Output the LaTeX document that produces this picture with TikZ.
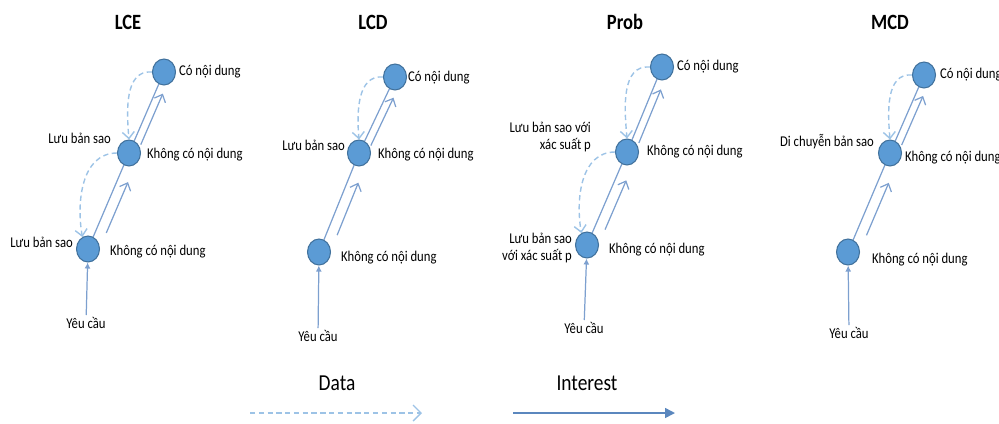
\documentclass[tikz,border=0pt]{standalone}
\usepackage{fontspec}
\setmainfont{Carlito}[FakeStretch=0.85]
\usetikzlibrary{arrows.meta}
\usetikzlibrary{shapes.geometric}
\usetikzlibrary{calc}
\definecolor{dotblue}{RGB}{91,155,213}
\definecolor{dotedge}{RGB}{65,113,156}
\definecolor{linkblue}{RGB}{125,160,207}
\definecolor{datablue}{RGB}{157,195,230}
\definecolor{keyblue}{RGB}{91,135,190}
\tikzset{
    dot/.style={ellipse, fill=dotblue, draw=dotedge, line width=0.6pt,
        minimum width=0.46cm, minimum height=0.52cm, inner sep=0pt},
    lbl/.style={font=\fontsize{8.5}{9.5}\selectfont, inner sep=1pt},
    ttl/.style={font=\fontsize{12.4}{14}\selectfont\bfseries},
    keytext/.style={font=\fontsize{13}{15}\selectfont},
    link/.style={draw=linkblue, line width=0.7pt},
    interest/.style={link, -{Straight Barb[length=1.3mm,width=2.4mm]}},
    data/.style={draw=datablue, line width=0.8pt, dash pattern=on 3pt off 2pt,
        -{Straight Barb[length=1.3mm,width=2.4mm]}},
    request/.style={link, -{Latex[length=1.2mm,width=1.2mm]}},
}
\begin{document}
\begin{tikzpicture}[x=0.02cm, y=0.02cm] % caching strategies
	\useasboundingbox (0,0) rectangle (999,-423);
	% LCE
	\node[ttl] (ta) at (128,-22) {LCE};
	\node[dot] (a1) at (88,-249) {};
	\node[dot] (a2) at (129,-153) {};
	\node[dot] (a3) at (164,-72) {};
	\node[lbl, anchor=north] (a0) at (86,-315) {Yêu cầu};
	\node[lbl, anchor=west] at (177,-72) {Có nội dung};
	\node[lbl, anchor=west] at (145,-155) {Không có nội dung};
	\node[lbl, anchor=west] at (108,-252) {Không có nội dung};
	\node[lbl, anchor=east] at (113,-138) {Lưu bản sao};
	\node[lbl, anchor=east] at (75,-242) {Lưu bản sao};
	\draw[data] (a3.west) to[out=175,in=95] (a2.north);
	\draw[data] (a2.west) to[out=180,in=100] (a1.115);
	% LCD
	\node[ttl] (tb) at (373,-22) {LCD};
	\node[dot] (b1) at (319,-252) {};
	\node[dot] (b2) at (359,-153) {};
	\node[dot] (b3) at (395,-77) {};
	\node[lbl, anchor=north] (b0) at (318,-328) {Yêu cầu};
	\node[lbl, anchor=west] at (406,-78) {Có nội dung};
	\node[lbl, anchor=west] at (376,-155) {Không có nội dung};
	\node[lbl, anchor=west] at (339,-258) {Không có nội dung};
	\node[lbl, anchor=east] at (347,-145) {Lưu bản sao};
	\draw[data] (b3.west) to[out=175,in=95] (b2.north);
	% Prob
	\node[ttl] (tc) at (625,-22) {Prob};
	\node[dot] (c1) at (587,-245) {};
	\node[dot] (c2) at (627,-152) {};
	\node[dot] (c3) at (662,-67) {};
	\node[lbl, anchor=north] (c0) at (584,-320) {Yêu cầu};
	\node[lbl, anchor=west] at (675,-67) {Có nội dung};
	\node[lbl, anchor=west] at (645,-152) {Không có nội dung};
	\node[lbl, anchor=west] at (607,-250) {Không có nội dung};
	\node[lbl, anchor=east, align=right] at (593,-137) {Lưu bản sao với\\xác suất p};
	\node[lbl, anchor=east, align=right] at (574,-248) {Lưu bản sao\\với xác suất p};
	\draw[data] (c3.west) to[out=175,in=95] (c2.north);
	\draw[data] (c2.west) to[out=180,in=100] (c1.115);
	% MCD
	\node[ttl] (td) at (890,-22) {MCD};
	\node[dot] (d1) at (848,-252) {};
	\node[dot] (d2) at (890,-153) {};
	\node[dot] (d3) at (924,-75) {};
	\node[lbl, anchor=north] (d0) at (849,-325) {Yêu cầu};
	\node[lbl, anchor=west] at (938,-75) {Có nội dung};
	\node[lbl, anchor=west] at (903,-158) {Không có nội dung};
	\node[lbl, anchor=west] at (870,-260) {Không có nội dung};
	\node[lbl, anchor=east] at (876,-142) {Di chuyễn bản sao};
	\draw[data] (d3.west) to[out=175,in=95] (d2.north);
	% same links in every panel
	\foreach \p in {a,b,c,d} {
		\draw[link] (\p1) -- (\p2);
		\draw[link] (\p2) -- (\p3);
		\draw[interest] ($(\p1)!0.21!(\p2)!0.21cm!-90:(\p2)$) -- ($(\p1)!0.74!(\p2)!0.21cm!-90:(\p2)$);
		\draw[interest] ($(\p2)!0.14!(\p3)!0.15cm!-90:(\p3)$) -- ($(\p2)!0.77!(\p3)!0.15cm!-90:(\p3)$);
		\draw[request] (\p0) -- (\p1);
	}
	% key
	\node[keytext] (kd) at (337,-383) {Data};
	\node[keytext] (ki) at (587,-383) {Interest};
	\coordinate (kd0) at (250,-413);
	\coordinate (kd1) at (422,-413);
	\coordinate (ki0) at (513,-413);
	\coordinate (ki1) at (675,-413);
	\draw[data, -{Straight Barb[length=1.6mm,width=3.2mm]}] (kd0) -- (kd1);
	\draw[keyblue, line width=0.9pt, -{Triangle[length=2mm,width=2mm]}] (ki0) -- (ki1);
\end{tikzpicture}
\end{document}
